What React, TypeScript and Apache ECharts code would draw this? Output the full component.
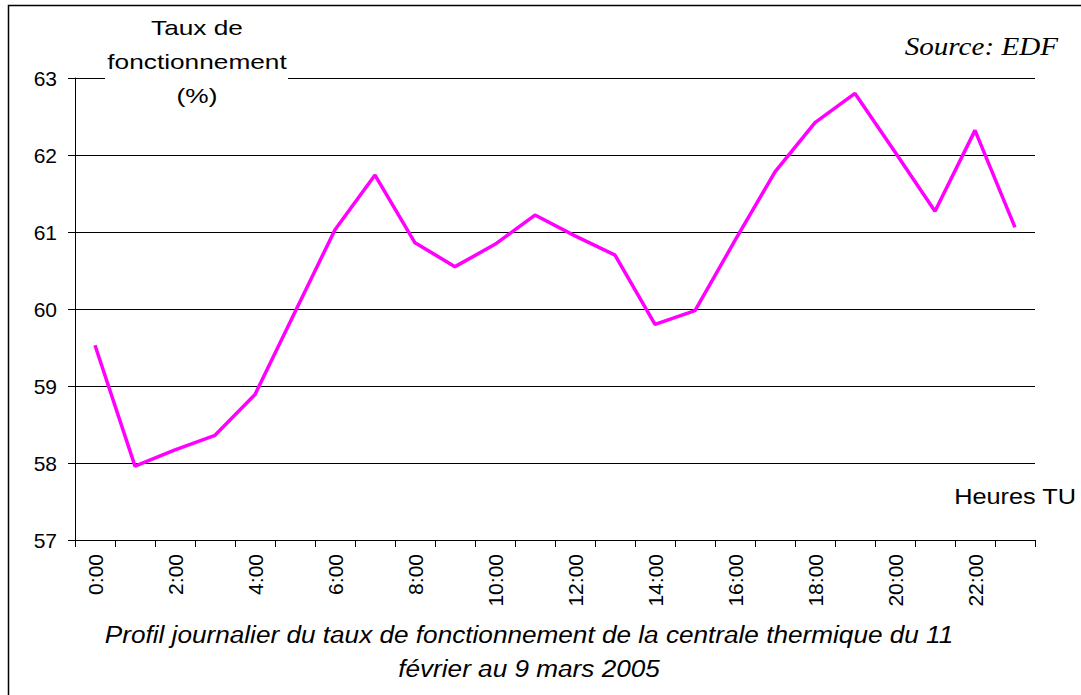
import React, { useEffect, useRef } from "react";
import * as echarts from "echarts";

const hours: string[] = [
  "0:00", "1:00", "2:00", "3:00", "4:00", "5:00", "6:00", "7:00",
  "8:00", "9:00", "10:00", "11:00", "12:00", "13:00", "14:00", "15:00",
  "16:00", "17:00", "18:00", "19:00", "20:00", "21:00", "22:00", "23:00",
];
const tauxFonctionnement: number[] = [
  59.53, 57.96, 58.17, 58.36, 58.89, 59.96, 61.03, 61.74,
  60.86, 60.55, 60.84, 61.22, 60.95, 60.70, 59.80, 59.98,
  60.89, 61.78, 62.42, 62.80, 62.04, 61.27, 62.32, 61.06,
];
const yMin = 57;
const yMax = 63;
const yStep = 1;
const yTitle = "Taux de\nfonctionnement\n(%)";
const xTitle = "Heures TU";
const sourceText = "Source: EDF";
const captionLines = [
  "Profil journalier du taux de fonctionnement de la centrale thermique du 11",
  "février au 9 mars 2005",
];

export default function App() {
  const ref = useRef<HTMLDivElement>(null);
  useEffect(() => {
    document.body.style.margin = "0";
    const chart = echarts.init(ref.current!, null, { renderer: "svg" });
    const font = "'Liberation Sans', Arial, sans-serif";
    chart.setOption({
      animation: false,
      backgroundColor: "#ffffff",
      grid: { left: 75, right: 46, top: 78, bottom: 155, containLabel: false },
      xAxis: {
        type: "category",
        data: hours,
        boundaryGap: true,
        axisLine: { show: true, lineStyle: { color: "#000", width: 1 } },
        axisTick: { show: true, interval: 0, length: 7, lineStyle: { color: "#000" } },
        axisLabel: {
          interval: 1,
          rotate: 90,
          margin: 14,
          fontSize: 21,
          color: "#000",
          fontFamily: font,
        },
        splitLine: { show: false },
      },
      yAxis: {
        type: "value",
        min: yMin,
        max: yMax,
        interval: yStep,
        axisLine: { show: true, lineStyle: { color: "#000", width: 1 } },
        axisTick: { show: true, length: 7, lineStyle: { color: "#000" } },
        axisLabel: { fontSize: 21, color: "#000", fontFamily: font, margin: 18 },
        splitLine: { show: true, lineStyle: { color: "#000", width: 1 } },
      },
      series: [
        {
          type: "line",
          data: tauxFonctionnement,
          symbol: "none",
          lineStyle: { color: "#FF00FF", width: 3.5 },
          z: 3,
        },
      ],
      graphic: [
        {
          type: "rect",
          shape: { x: 8.5, y: 5.5, width: 1200, height: 900 },
          style: { fill: "none", stroke: "#000", lineWidth: 1.5 },
          z: 10,
          silent: true,
        },
        {
          type: "rect",
          shape: { x: 105, y: 10, width: 183, height: 95 },
          style: { fill: "#ffffff" },
          z: 20,
        },
        {
          type: "text",
          x: 197,
          y: 61,
          scaleX: 1.25,
          z: 21,
          style: {
            text: yTitle,
            fontSize: 21,
            lineHeight: 34,
            fontFamily: font,
            fill: "#000",
            align: "center",
            verticalAlign: "middle",
          },
        },
        {
          type: "text",
          x: 1058,
          y: 46,
          scaleX: 1.12,
          z: 21,
          style: {
            text: sourceText,
            fontSize: 26,
            fontStyle: "italic",
            fontFamily: "'Liberation Serif', 'Times New Roman', serif",
            fill: "#000",
            align: "right",
            verticalAlign: "middle",
          },
        },
        {
          type: "text",
          x: 1076,
          y: 497,
          scaleX: 1.15,
          z: 21,
          style: {
            text: xTitle,
            fontSize: 22,
            fontFamily: font,
            fill: "#000",
            align: "right",
            verticalAlign: "middle",
          },
        },
        {
          type: "text",
          x: 529,
          y: 651,
          scaleX: 1.09,
          z: 21,
          style: {
            text: captionLines.join("\n"),
            fontSize: 24,
            lineHeight: 34,
            fontStyle: "italic",
            fontFamily: font,
            fill: "#000",
            align: "center",
            verticalAlign: "middle",
          },
        },
      ],
    });
    return () => chart.dispose();
  }, []);
  return <div ref={ref} style={{ width: 1081, height: 695 }} />;
}
